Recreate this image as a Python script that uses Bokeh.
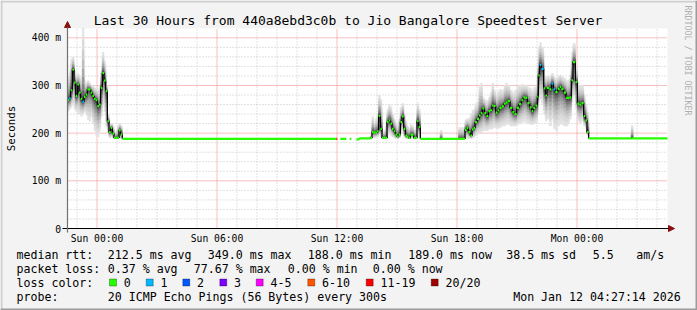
import math
from bokeh.plotting import figure
from bokeh.models import (Range1d, Label, BoxAnnotation, Arrow, NormalHead,
                          ColumnDataSource)
from bokeh.core.properties import value
from bokeh.embed import file_html
from bokeh.resources import INLINE

# ---------------------------------------------------------------- data
title_text = "Last 30 Hours from 440a8ebd3c0b to Jio Bangalore Speedtest Server"
x_tick_minutes = [0, 360, 720, 1080, 1440]
x_tick_labels = ["Sun 00:00", "Sun 06:00", "Sun 12:00", "Sun 18:00", "Mon 00:00"]
y_tick_values = [0, 100, 200, 300, 400]
y_tick_labels = ["0", "100 m", "200 m", "300 m", "400 m"]

# graph window, minutes relative to Sun 00:00 (30 hours)
window_start = -88.5
window_end = 1711.5

# step start times (minutes from Sun 00:00), median rtt (ms), smoke low / high (ms), loss bin
night_t = [-89, -84, -79, -74, -69, -64, -59, -54, -49, -44, -39, -34, -29, -24, -19,
           -14, -9, -4, 1, 6, 11, 16, 21, 26, 31, 36, 41, 46, 51, 56, 61, 66, 71]
night_med = [270, 273, 290, 333, 306, 278, 302, 285, 272, 266, 276, 281, 292, 292, 285,
             278, 272, 269, 257, 260, 295, 326, 310, 288, 225, 202, 211, 199, 190, 190,
             190, 206, 197]
night_lo = [245, 250, 255, 262, 250, 245, 240, 240, 235, 240, 245, 238, 228, 225, 235,
            220, 205, 195, 192, 205, 235, 260, 245, 215, 200, 190, 192, 190, 188, 188,
            188, 190, 188]
night_hi = [320, 330, 355, 360, 330, 320, 325, 320, 310, 420, 310, 305, 310, 305, 300,
            300, 295, 295, 290, 300, 330, 370, 350, 300, 240, 215, 220, 215, 195, 205,
            215, 220, 215]
night_loss = [0, 1, 0, 0, 0, 0, 0, 0, 0, 1, 0, 0, 0, 0, 0,
              0, 0, 0, 0, 0, 0, 0, 0, 0, 0, 0, 0, 0, 0, 0,
              0, 0, 0]

quiet_t = [76, 718, 721, 730, 748, 758, 763, 778, 787]
quiet_med = [188, 188, None, 188, None, 188, None, 187, 189]
quiet_loss = [0, 6, 0, 0, 0, 0, 0, 0, 0]

noon_t = [820, 825, 830, 835, 840, 845, 850, 855, 860, 865, 870, 875, 880, 885, 890,
          895, 900, 905, 910, 915, 920, 925, 930, 935, 940, 945, 950, 955, 960, 965]
noon_med = [190, 202, 201, 201, 204, 236, 209, 190, 190, 190, 223, 227, 220, 209, 204,
            197, 193, 197, 223, 235, 209, 195, 193, 190, 197, 197, 190, 190, 225, 213]
noon_lo = [188, 190, 190, 192, 192, 205, 192, 188, 188, 188, 195, 200, 195, 192, 190,
           188, 188, 190, 200, 205, 192, 188, 188, 188, 188, 190, 188, 188, 198, 192]
noon_hi = [195, 235, 220, 230, 240, 280, 270, 200, 205, 215, 250, 260, 255, 240, 230,
           220, 215, 230, 255, 262, 240, 225, 215, 210, 218, 215, 205, 212, 262, 250]

afternoon_t = [970, 1030, 1035, 1085]
afternoon_med = [188, 188, 188, 188]
afternoon_hi = [188, 206, 188, 212]

evening_t = [1104, 1109, 1114, 1120, 1125, 1130, 1134, 1140, 1146, 1151,
             1156, 1162, 1168, 1174, 1179, 1185, 1190, 1196, 1202, 1207,
             1214, 1221, 1226, 1232, 1239, 1246, 1252, 1259, 1266, 1273,
             1279, 1285, 1291, 1298, 1304, 1309, 1315, 1321, 1324, 1328,
             1333, 1340, 1345, 1350, 1357, 1363, 1369, 1375, 1382, 1388,
             1393, 1400, 1407, 1413, 1418, 1423, 1428, 1435, 1441, 1447,
             1453, 1460, 1465, 1470]
evening_med = [207, 211, 202, 195, 208, 211, 223, 230, 237, 242,
               252, 242, 236, 246, 248, 258, 257, 243, 248, 253,
               256, 262, 264, 267, 253, 244, 240, 253, 261, 269,
               275, 274, 263, 254, 246, 253, 258, 276, 321, 343,
               335, 294, 279, 295, 292, 304, 292, 286, 293, 297,
               293, 285, 274, 274, 275, 311, 349, 307, 262, 260,
               263, 236, 227, 202]
evening_lo = [190, 190, 189, 189, 190, 192, 195, 198, 200, 200,
              205, 205, 205, 208, 208, 210, 212, 210, 210, 212,
              215, 215, 218, 218, 215, 215, 215, 218, 220, 222,
              225, 222, 220, 218, 218, 220, 222, 240, 265, 270,
              262, 240, 225, 230, 215, 230, 210, 205, 215, 220,
              218, 215, 215, 220, 230, 265, 280, 250, 225, 220,
              225, 215, 210, 195]
evening_hi = [228, 230, 232, 240, 248, 250, 262, 265, 300, 305,
              275, 270, 268, 275, 285, 305, 290, 280, 288, 292,
              290, 300, 305, 300, 290, 285, 290, 298, 300, 302,
              300, 300, 296, 294, 290, 295, 300, 336, 380, 390,
              380, 322, 318, 320, 318, 325, 318, 315, 320, 322,
              318, 315, 310, 312, 320, 370, 388, 340, 305, 300,
              300, 280, 260, 243]
evening_loss = [0] * 39 + [1, 1] + [0] * 4 + [1, 1] + [0] * 17

late_t = [1475, 1603, 1608]
late_med = [189, 189, 189]
late_hi = [189, 216, 189]

loss_bins = ["0", "1", "2", "3", "4-5", "6-10", "11-19", "20/20"]
loss_colors = ["#26ff00", "#00b8ff", "#0059ff", "#7e00ff", "#ff00ff", "#ff5500",
               "#ff0000", "#a10000"]

rtt_stats = ["212.5 ms avg", "349.0 ms max", "188.0 ms min", "189.0 ms now",
             "38.5 ms sd", "5.5", "am/s"]
loss_stats = ["0.37 % avg", "77.67 % max", "0.00 % min", "0.00 % now"]
probe_text = "20 ICMP Echo Pings (56 Bytes) every 300s"
timestamp_text = "Mon Jan 12 04:27:14 2026"

# ---------------------------------------------------------------- assemble series
t_all = night_t + quiet_t + noon_t + afternoon_t + evening_t + late_t
med_all = night_med + quiet_med + noon_med + afternoon_med + evening_med + late_med
lo_all = night_lo + quiet_med + noon_lo + afternoon_med + evening_lo + late_med
hi_all = night_hi + quiet_med + noon_hi + afternoon_hi + evening_hi + late_hi
loss_all = (night_loss + quiet_loss + [0] * len(noon_t) + [0] * len(afternoon_t)
            + evening_loss + [0] * len(late_t))
t_all[0] = max(t_all[0], window_start)
end_all = t_all[1:] + [window_end]

# ---------------------------------------------------------------- layout
W, H = 697, 310
FL, FR, FT, FB = 67, 667, 28, 228          # graph area in pixels
PX_PER_MS = (FB - 37.3) / 400.0
Y_TOP = (FB - FT) / PX_PER_MS


def X(px):
    return window_start + (px - FL) * (window_end - window_start) / (FR - FL)


def Y(py):
    return Y_TOP * (FB - py) / (FB - FT)


p = figure(width=W, height=H, output_backend="svg", toolbar_location=None,
           title=None, x_axis_type=None, y_axis_type=None, min_border=0,
           x_range=Range1d(X(0), X(W)), y_range=Range1d(Y(H), Y(0)))
p.background_fill_color = "#f3f3f3"
p.border_fill_color = "#f3f3f3"
p.outline_line_color = None

# white graph canvas
p.add_layout(BoxAnnotation(left=window_start, right=window_end, bottom=0, top=Y_TOP,
                           fill_color="#ffffff", fill_alpha=1.0, line_color=None,
                           level="underlay"))

# grid
hour_minor = [h * 60 for h in range(-1, 29) if h % 6 != 0]
y_minor = [v for v in range(20, 420, 20) if v % 100 != 0]
p.segment(x0=hour_minor, y0=[0] * len(hour_minor), x1=hour_minor, y1=[Y_TOP] * len(hour_minor),
          line_color="#c4c4c4", line_width=1, line_dash="1 2")
p.segment(x0=[window_start] * len(y_minor), y0=y_minor, x1=[window_end] * len(y_minor), y1=y_minor,
          line_color="#c4c4c4", line_width=1, line_dash="1 2")
p.segment(x0=x_tick_minutes, y0=[0] * 5, x1=x_tick_minutes, y1=[Y_TOP] * 5,
          line_color="#f08080", line_width=1, line_dash="1 1")
p.segment(x0=[window_start] * 4, y0=y_tick_values[1:], x1=[window_end] * 4, y1=y_tick_values[1:],
          line_color="#f08080", line_width=1, line_dash="1 1")

# smoke
NL = 10
sm = dict(l=[], r=[], b=[], t=[], c=[])
for k in range(NL):
    f = (1 - k / NL) ** 1.6
    g = int(round(0xE2 - (0xE2 - 0x30) * (k / (NL - 1)) ** 1.4))
    col = "#%02x%02x%02x" % (g, g, g)
    for i in range(len(t_all)):
        m = med_all[i]
        if m is None or hi_all[i] - lo_all[i] < 1:
            continue
        sm["l"].append(t_all[i])
        sm["r"].append(end_all[i])
        sm["t"].append(m + f * (hi_all[i] - m))
        sm["b"].append(m - f * (m - lo_all[i]))
        sm["c"].append(col)
p.quad(left="l", right="r", bottom="b", top="t", fill_color="c", line_color="c",
       line_width=0.5, source=ColumnDataSource(sm))

# black step connectors
cx, cy0, cy1 = [], [], []
for i in range(len(t_all) - 1):
    a, b = med_all[i], med_all[i + 1]
    if a is None or b is None or a == b:
        continue
    cx.append(end_all[i]); cy0.append(a); cy1.append(b)
p.segment(x0=cx, y0=cy0, x1=cx, y1=cy1, line_color="#000000", line_width=1.3)

# median, coloured by loss
mx0, mx1, my, mc = [], [], [], []
for i in range(len(t_all)):
    if med_all[i] is None:
        continue
    mx0.append(t_all[i]); mx1.append(end_all[i]); my.append(med_all[i])
    mc.append(loss_colors[loss_all[i]])
p.segment(x0=mx0, y0=my, x1=mx1, y1=my, line_color=mc, line_width=2.2)

# axis lines with arrow heads
p.add_layout(Arrow(end=NormalHead(size=6, fill_color="#8b1010", line_color="#8b1010"),
                   x_start=X(62), y_start=0, x_end=X(674), y_end=0,
                   line_color="#000000", line_width=1))
p.add_layout(Arrow(end=NormalHead(size=6, fill_color="#8b1010", line_color="#8b1010"),
                   x_start=X(67), y_start=Y(232), x_end=X(67), y_end=Y(21),
                   line_color="#707070", line_width=1.2))

MONO = "DejaVu Sans Mono"

# tick labels
p.text(x=x_tick_minutes, y=[Y(238)] * len(x_tick_minutes), text=x_tick_labels,
       text_align="center", text_baseline="middle", text_font=value(MONO),
       text_font_size=value("9.7px"), text_color="#000000")
p.text(x=[X(60.5)] * len(y_tick_values), y=y_tick_values, text=y_tick_labels,
       text_align="right", text_baseline="middle", text_font=value(MONO),
       text_font_size=value("9.7px"), text_color="#000000")


def txt(px, py, s, size, align="left", color="#000000", angle=0.0):
    p.add_layout(Label(x=X(px), y=Y(py), text=s, text_font=MONO, text_font_size=size,
                       text_align=align, text_baseline="middle", text_color=color,
                       angle=angle))


txt(347.5, 19.5, title_text, "13px", align="center")
txt(10.5, 128, "Seconds", "10.8px", align="center", angle=math.pi / 2)
txt(687.5, 60, "RRDTOOL / TOBI OETIKER", "8.3px", align="center", color="#b0b0b0",
    angle=-math.pi / 2)

LEG = "11.6px"
rows = [254.3, 268.3, 282.3, 296.3]
txt(16, rows[0], "median rtt:", LEG)
for s, px in zip(rtt_stats, [107.3, 207.3, 307.3, 407.7, 505.7, 592.3, 635.7]):
    txt(px, rows[0], s, LEG)
txt(16, rows[1], "packet loss:", LEG)
for s, px in zip(loss_stats, [107.3, 193.3, 287.3, 372.3]):
    txt(px, rows[1], s, LEG)
txt(16, rows[2], "loss color:", LEG)
for s, c, px in zip(loss_bins, loss_colors, [109, 145.7, 182.3, 219.3, 255.7, 307.3, 365.7, 430.7]):
    p.add_layout(BoxAnnotation(left=X(px), right=X(px + 7), top=Y(278.5), bottom=Y(285.5),
                               fill_color=c, fill_alpha=1.0, line_color="#000000",
                               line_width=1))
    txt(px + 14.3, rows[2], s, LEG)
txt(16, rows[3], "probe:", LEG)
txt(107.3, rows[3], probe_text, LEG)
txt(512.7, rows[3], timestamp_text, LEG)

# 3-D frame around the image
for (l, r, t, b, c) in [(0, W, 0, 2, "#cfcfcf"), (0, 2, 0, H, "#cfcfcf"),
                        (0, W, H - 2, H, "#9c9c9c"), (W - 2, W, 0, H, "#9c9c9c")]:
    p.add_layout(BoxAnnotation(left=X(l), right=X(r), top=Y(t), bottom=Y(b),
                               fill_color=c, fill_alpha=1.0, line_color=None))

open("out.html", "w").write(file_html(p, INLINE))
